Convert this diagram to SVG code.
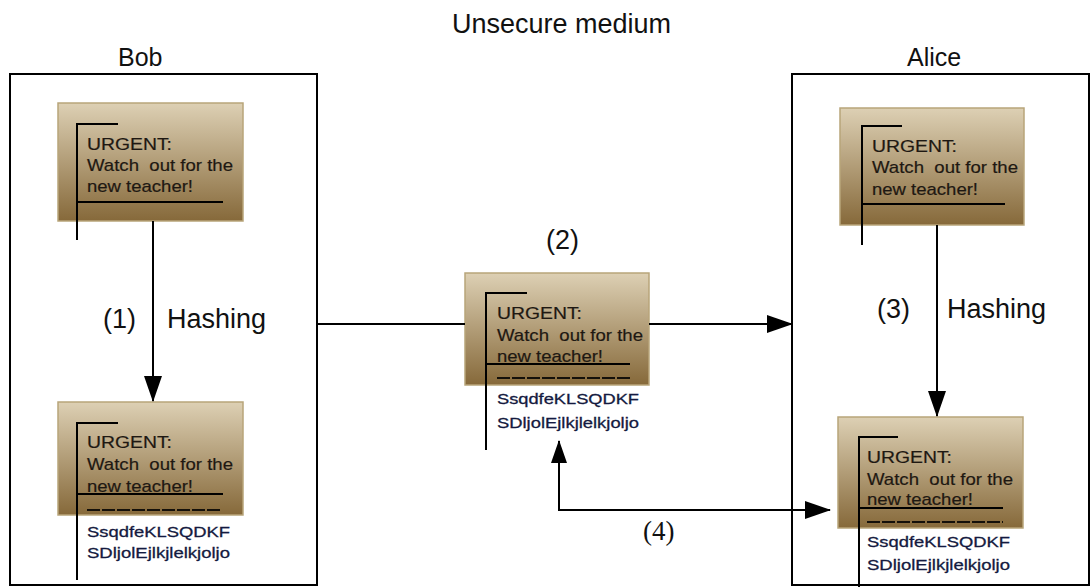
<svg xmlns="http://www.w3.org/2000/svg" width="1091" height="587" viewBox="0 0 1091 587">
<defs>
<linearGradient id="g" x1="0" y1="0" x2="0" y2="1">
<stop offset="0" stop-color="#ddd0b4"/>
<stop offset="1" stop-color="#86693a"/>
</linearGradient>
<marker id="ah" markerUnits="userSpaceOnUse" markerWidth="26" markerHeight="18" viewBox="0 0 26 18" refX="25" refY="9" orient="auto">
<path d="M0,0 L26,9 L0,18 Z" fill="#000"/>
</marker>
<style>
.box{fill:none;stroke:#000;stroke-width:2}
.card{fill:url(#g);stroke:#b8a57a;stroke-width:1.5}
.br{fill:none;stroke:#000;stroke-width:2}
.dash{stroke:#14100a;stroke-width:2;stroke-dasharray:13 2}
.t{font-family:"Liberation Sans",Arial,sans-serif;font-size:17px;fill:#1e1812;stroke:#1e1812;stroke-width:0.2;white-space:pre}
.c{font-family:"Liberation Sans",Arial,sans-serif;font-size:15.5px;fill:#141a40;stroke:#141a40;stroke-width:0.3}
.lbl{font-family:"Liberation Sans",Arial,sans-serif;font-size:27px;fill:#111;white-space:pre}
.conn{fill:none;stroke:#000;stroke-width:2}
</style>
</defs>

<text class="lbl" x="452" y="33">Unsecure medium</text>

<g id="bob">
<rect class="box" x="10" y="74" width="307" height="511"/>
<text class="lbl" x="118" y="66" style="font-size:25px">Bob</text>
</g>
<g id="alice">
<rect class="box" x="792" y="74" width="297" height="511"/>
<text class="lbl" x="907" y="66" style="font-size:25px">Alice</text>
</g>

<g id="bob-message">
<rect class="card" x="58" y="103" width="185" height="118"/>
<path class="br" d="M118,124 H77 V240 M77,202 H223"/>
<text class="t" x="87" y="150" textLength="85" lengthAdjust="spacingAndGlyphs">URGENT:</text>
<text class="t" x="87" y="171" textLength="146" lengthAdjust="spacingAndGlyphs">Watch  out for the</text>
<text class="t" x="87" y="192" textLength="106" lengthAdjust="spacingAndGlyphs">new teacher!</text>
</g>

<g id="bob-hashed">
<rect class="card" x="58" y="402" width="185" height="113"/>
<path class="br" d="M118,423 H77 V580 M77,494 H223"/>
<line class="dash" x1="87" y1="510" x2="222" y2="510"/>
<text class="t" x="87" y="448" textLength="85" lengthAdjust="spacingAndGlyphs">URGENT:</text>
<text class="t" x="87" y="470" textLength="146" lengthAdjust="spacingAndGlyphs">Watch  out for the</text>
<text class="t" x="87" y="492" textLength="106" lengthAdjust="spacingAndGlyphs">new teacher!</text>
<text class="c" x="87" y="537" textLength="143" lengthAdjust="spacingAndGlyphs">SsqdfeKLSQDKF</text>
<text class="c" x="87" y="558" textLength="143" lengthAdjust="spacingAndGlyphs">SDljolEjlkjlelkjoljo</text>
</g>

<g id="transit-message">
<rect class="card" x="465" y="273" width="184" height="112"/>
<path class="br" d="M527,293 H486 V450 M486,364 H630"/>
<line class="dash" x1="497" y1="378" x2="630" y2="378"/>
<text class="t" x="497" y="319" textLength="85" lengthAdjust="spacingAndGlyphs">URGENT:</text>
<text class="t" x="497" y="341" textLength="146" lengthAdjust="spacingAndGlyphs">Watch  out for the</text>
<text class="t" x="497" y="362" textLength="106" lengthAdjust="spacingAndGlyphs">new teacher!</text>
<text class="c" x="497" y="404" textLength="142" lengthAdjust="spacingAndGlyphs">SsqdfeKLSQDKF</text>
<text class="c" x="497" y="428" textLength="142" lengthAdjust="spacingAndGlyphs">SDljolEjlkjlelkjoljo</text>
</g>

<g id="alice-message">
<rect class="card" x="840" y="108" width="184" height="117"/>
<path class="br" d="M902,126 H862 V245 M862,204 H1005"/>
<text class="t" x="872" y="152" textLength="85" lengthAdjust="spacingAndGlyphs">URGENT:</text>
<text class="t" x="872" y="173" textLength="146" lengthAdjust="spacingAndGlyphs">Watch  out for the</text>
<text class="t" x="872" y="195" textLength="106" lengthAdjust="spacingAndGlyphs">new teacher!</text>
</g>

<g id="alice-hashed">
<rect class="card" x="838" y="417" width="185" height="111"/>
<path class="br" d="M898,437 H859 V587 M859,508 H1003"/>
<line class="dash" x1="867" y1="522" x2="1003" y2="522"/>
<text class="t" x="867" y="463" textLength="85" lengthAdjust="spacingAndGlyphs">URGENT:</text>
<text class="t" x="867" y="485" textLength="146" lengthAdjust="spacingAndGlyphs">Watch  out for the</text>
<text class="t" x="867" y="505" textLength="106" lengthAdjust="spacingAndGlyphs">new teacher!</text>
<text class="c" x="867" y="547" textLength="143" lengthAdjust="spacingAndGlyphs">SsqdfeKLSQDKF</text>
<text class="c" x="867" y="570" textLength="143" lengthAdjust="spacingAndGlyphs">SDljolEjlkjlelkjoljo</text>
</g>

<g id="connectors">
<line class="conn" x1="153" y1="221" x2="153" y2="401" marker-end="url(#ah)"/>
<line class="conn" x1="937" y1="225" x2="937" y2="416" marker-end="url(#ah)"/>
<line class="conn" x1="317" y1="324" x2="465" y2="324"/>
<line class="conn" x1="649" y1="324" x2="792" y2="324" marker-end="url(#ah)"/>
<path class="conn" d="M559,441 V510 H830" marker-end="url(#ah)"/>
<path d="M551,463 L559,440 L567,463 Z" fill="#000"/>
<text class="lbl" x="103" y="328">(1)</text>
<text class="lbl" x="167" y="328">Hashing</text>
<text class="lbl" x="546" y="249">(2)</text>
<text class="lbl" x="877" y="318">(3)</text>
<text class="lbl" x="947" y="318">Hashing</text>
<text class="lbl" x="643" y="540" style="font-family:'Liberation Serif','Times New Roman',serif">(4)</text>
</g>
</svg>
